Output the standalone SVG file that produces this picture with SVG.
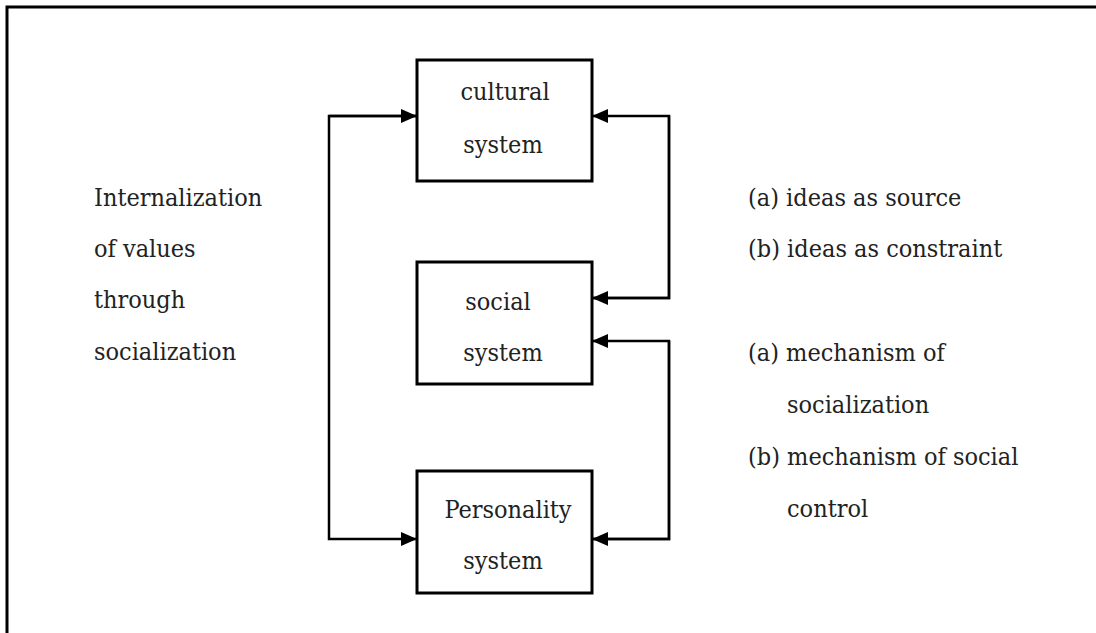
<svg xmlns="http://www.w3.org/2000/svg" width="1096" height="633" viewBox="0 0 1096 633">
<style>
text{font-family:"DejaVu Serif Condensed","DejaVu Serif","Liberation Serif",serif;font-stretch:condensed;font-size:25px;fill:#222}
.c{text-anchor:middle}
.box{fill:#fff;stroke:#000;stroke-width:3}
.ln{fill:none;stroke:#000;stroke-width:2.5}
</style>
<defs>
<marker id="ah" viewBox="0 0 16 14" refX="16" refY="7" markerWidth="16" markerHeight="14" markerUnits="userSpaceOnUse" orient="auto">
<path d="M0,0 L16,7 L0,14 Z" fill="#000"/>
</marker>
</defs>
<rect width="1096" height="633" fill="#fff"/>
<path d="M7,640 L7,7 L1100,7" fill="none" stroke="#000" stroke-width="3"/>
<g id="connectors">
<path class="ln" d="M417,116 L329,116 L329,539 L417,539" marker-end="url(#ah)"/>
<path class="ln" d="M329,116 L417,116" marker-end="url(#ah)"/>
<path class="ln" d="M592,298 L669,298 L669,116 L592,116" marker-end="url(#ah)"/>
<path class="ln" d="M669,116 L669,298 L592,298" marker-end="url(#ah)"/>
<path class="ln" d="M592,539 L669,539 L669,341 L592,341" marker-end="url(#ah)"/>
<path class="ln" d="M669,341 L669,539 L592,539" marker-end="url(#ah)"/>
</g>
<g id="cultural">
<rect class="box" x="417" y="60" width="175" height="121"/>
<text class="c" x="505" y="100">cultural</text>
<text class="c" x="503" y="153">system</text>
</g>
<g id="social">
<rect class="box" x="417" y="262" width="175" height="122"/>
<text class="c" x="498" y="310">social</text>
<text class="c" x="503" y="361">system</text>
</g>
<g id="personality">
<rect class="box" x="417" y="471" width="175" height="122"/>
<text class="c" x="508" y="518">Personality</text>
<text class="c" x="503" y="569">system</text>
</g>
<g id="left-label">
<text x="94" y="206">Internalization</text>
<text x="94" y="257">of values</text>
<text x="94" y="308">through</text>
<text x="94" y="360">socialization</text>
</g>
<g id="right-label">
<text x="748" y="206">(a) ideas as source</text>
<text x="748" y="257">(b) ideas as constraint</text>
<text x="748" y="361">(a) mechanism of</text>
<text x="787" y="413">socialization</text>
<text x="748" y="465">(b) mechanism of social</text>
<text x="787" y="517">control</text>
</g>
</svg>
